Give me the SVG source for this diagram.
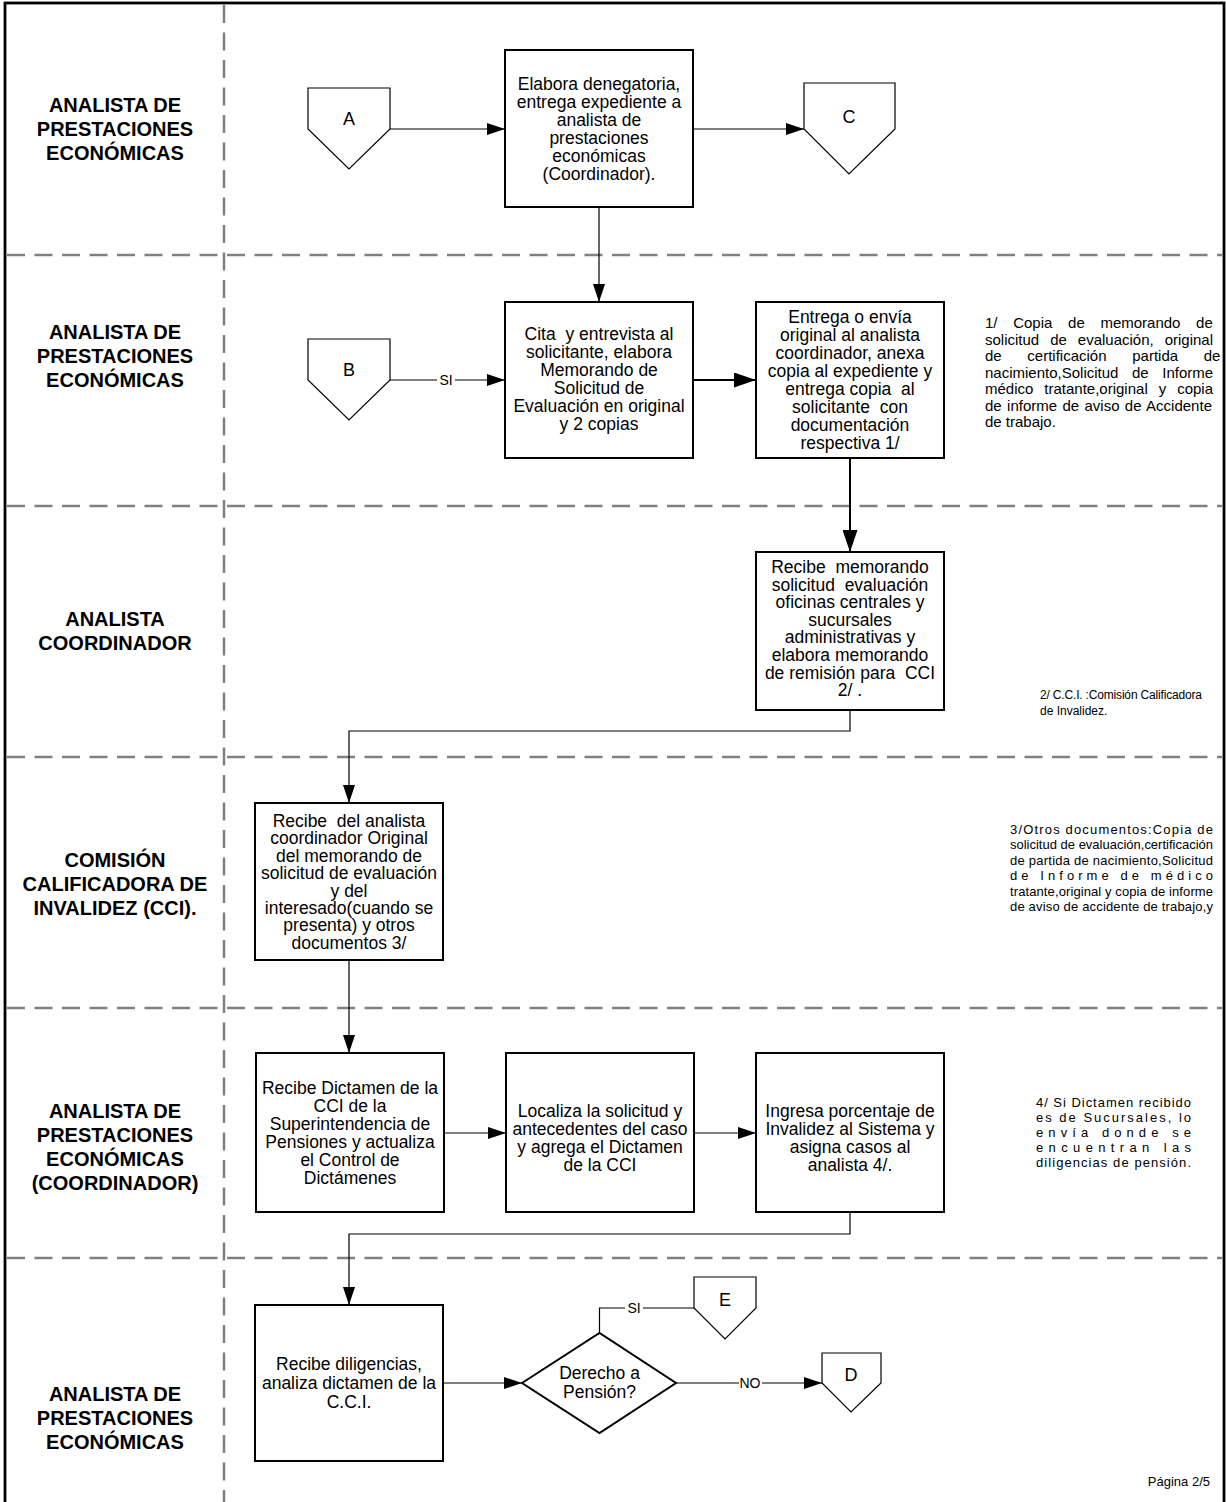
<svg xmlns="http://www.w3.org/2000/svg" width="1226" height="1502" viewBox="0 0 1226 1502">
<style>
.lane{font-family:"Liberation Sans",Arial,sans-serif;font-weight:bold;font-size:20px;fill:#000;text-anchor:middle}
.bt{font-family:"Liberation Sans",Arial,sans-serif;font-size:17.5px;fill:#000;text-anchor:middle;white-space:pre}
.lbl{font-family:"Liberation Sans",Arial,sans-serif;font-size:18px;fill:#000;text-anchor:middle}
.cl{font-family:"Liberation Sans",Arial,sans-serif;font-size:14px;fill:#000;text-anchor:middle}
.note{font-family:"Liberation Sans",Arial,sans-serif;fill:#000;white-space:pre}
.box{fill:#fff;stroke:#000;stroke-width:2}
.off{fill:#fff;stroke:#000;stroke-width:1.2}
.div{stroke:#808080;stroke-width:2.5;stroke-dasharray:18 9.5;fill:none}
.ln{fill:none;stroke:#000;stroke-width:1.2}
.lnb{fill:none;stroke:#000;stroke-width:2}
</style>
<defs>
<marker id="ah" markerUnits="userSpaceOnUse" markerWidth="18" markerHeight="12" refX="18" refY="6" orient="auto"><path d="M0,0 L18,6 L0,12 Z" fill="#000"/></marker>
<marker id="ahb" markerUnits="userSpaceOnUse" markerWidth="22" markerHeight="15" refX="22" refY="7.5" orient="auto"><path d="M0,0 L22,7.5 L0,15 Z" fill="#000"/></marker>
</defs>
<rect width="1226" height="1502" fill="#fff"/>

<g id="frame">
<rect x="5" y="3" width="1219" height="1520" fill="none" stroke="#000" stroke-width="2.8"/>
<line class="div" x1="224" y1="5" x2="224" y2="1502"/>
<line class="div" x1="7" y1="255" x2="1222" y2="255"/>
<line class="div" x1="7" y1="506" x2="1222" y2="506"/>
<line class="div" x1="7" y1="757" x2="1222" y2="757"/>
<line class="div" x1="7" y1="1008" x2="1222" y2="1008"/>
<line class="div" x1="7" y1="1258" x2="1222" y2="1258"/>
</g>

<g id="lanes">
<text class="lane" x="115" y="112">ANALISTA DE</text>
<text class="lane" x="115" y="136">PRESTACIONES</text>
<text class="lane" x="115" y="160">ECONÓMICAS</text>
<text class="lane" x="115" y="339">ANALISTA DE</text>
<text class="lane" x="115" y="363">PRESTACIONES</text>
<text class="lane" x="115" y="387">ECONÓMICAS</text>
<text class="lane" x="115" y="626">ANALISTA</text>
<text class="lane" x="115" y="650">COORDINADOR</text>
<text class="lane" x="115" y="867">COMISIÓN</text>
<text class="lane" x="115" y="891">CALIFICADORA DE</text>
<text class="lane" x="115" y="915">INVALIDEZ (CCI).</text>
<text class="lane" x="115" y="1118">ANALISTA DE</text>
<text class="lane" x="115" y="1142">PRESTACIONES</text>
<text class="lane" x="115" y="1166">ECONÓMICAS</text>
<text class="lane" x="115" y="1190">(COORDINADOR)</text>
<text class="lane" x="115" y="1401">ANALISTA DE</text>
<text class="lane" x="115" y="1425">PRESTACIONES</text>
<text class="lane" x="115" y="1449">ECONÓMICAS</text>
</g>

<g id="connectors">
<line class="ln" x1="390" y1="129" x2="505" y2="129" marker-end="url(#ah)"/>
<line class="ln" x1="693" y1="129" x2="804" y2="129" marker-end="url(#ah)"/>
<line class="ln" x1="599" y1="207" x2="599" y2="302" marker-end="url(#ah)"/>
<line class="ln" x1="390" y1="380" x2="505" y2="380" marker-end="url(#ah)"/>
<line class="lnb" x1="693" y1="380" x2="756" y2="380" marker-end="url(#ahb)"/>
<line class="lnb" x1="850" y1="458" x2="850" y2="552" marker-end="url(#ahb)"/>
<polyline class="ln" points="850,710 850,731 349,731 349,803" marker-end="url(#ah)"/>
<line class="ln" x1="349" y1="960" x2="349" y2="1053" marker-end="url(#ah)"/>
<line class="ln" x1="444" y1="1133" x2="506" y2="1133" marker-end="url(#ah)"/>
<line class="ln" x1="694" y1="1133" x2="756" y2="1133" marker-end="url(#ah)"/>
<polyline class="ln" points="850,1212 850,1234 349,1234 349,1305" marker-end="url(#ah)"/>
<line class="ln" x1="443" y1="1383" x2="522" y2="1383" marker-end="url(#ah)"/>
<polyline class="ln" points="599.5,1333 599.5,1308 694,1308"/>
<line class="ln" x1="676" y1="1383" x2="822" y2="1383" marker-end="url(#ah)"/>
<rect x="437" y="372" width="18" height="16" fill="#fff"/>
<text class="cl" x="446" y="385">SI</text>
<rect x="625" y="1300" width="18" height="16" fill="#fff"/>
<text class="cl" x="634" y="1313">SI</text>
<rect x="739" y="1375" width="23" height="16" fill="#fff"/>
<text class="cl" x="750" y="1388">NO</text>
</g>

<g id="offA"><path class="off" d="M308,88 H390 V129 L349,169 L308,129 Z"/><text class="lbl" x="349" y="125">A</text></g>
<g id="offB"><path class="off" d="M308,339 H390 V380 L349,420 L308,380 Z"/><text class="lbl" x="349" y="376">B</text></g>
<g id="offC"><path class="off" d="M804,83 H895 V129 L849,174 L804,129 Z"/><text class="lbl" x="849" y="123">C</text></g>
<g id="offE"><path class="off" d="M694,1277 H756 V1308 L725,1339 L694,1308 Z"/><text class="lbl" x="725" y="1306">E</text></g>
<g id="offD"><path class="off" d="M822,1353 H881 V1383 L851,1412 L822,1383 Z"/><text class="lbl" x="851" y="1381">D</text></g>

<g id="box1"><rect class="box" x="505" y="50" width="188" height="157"/>
<text class="bt" x="599"><tspan x="599" y="90">Elabora denegatoria,</tspan><tspan x="599" y="108">entrega expediente a</tspan><tspan x="599" y="126">analista de</tspan><tspan x="599" y="144">prestaciones</tspan><tspan x="599" y="162">económicas</tspan><tspan x="599" y="180">(Coordinador).</tspan></text></g>

<g id="box2"><rect class="box" x="505" y="302" width="188" height="156"/>
<text class="bt" x="599"><tspan x="599" y="340">Cita  y entrevista al</tspan><tspan x="599" y="358">solicitante, elabora</tspan><tspan x="599" y="376">Memorando de</tspan><tspan x="599" y="394">Solicitud de</tspan><tspan x="599" y="412">Evaluación en original</tspan><tspan x="599" y="430">y 2 copias</tspan></text></g>

<g id="box3"><rect class="box" x="756" y="302" width="188" height="156"/>
<text class="bt" x="850"><tspan x="850" y="323">Entrega o envía</tspan><tspan x="850" y="341">original al analista</tspan><tspan x="850" y="359">coordinador, anexa</tspan><tspan x="850" y="377">copia al expediente y</tspan><tspan x="850" y="395">entrega copia  al</tspan><tspan x="850" y="413">solicitante  con</tspan><tspan x="850" y="431">documentación</tspan><tspan x="850" y="449">respectiva 1/</tspan></text></g>

<g id="box4"><rect class="box" x="756" y="552" width="188" height="158"/>
<text class="bt" x="850"><tspan x="850" y="573">Recibe  memorando</tspan><tspan x="850" y="590.6">solicitud  evaluación</tspan><tspan x="850" y="608.2">oficinas centrales y</tspan><tspan x="850" y="625.8">sucursales</tspan><tspan x="850" y="643.4">administrativas y</tspan><tspan x="850" y="661">elabora memorando</tspan><tspan x="850" y="678.6">de remisión para  CCI</tspan><tspan x="850" y="696.2">2/ .</tspan></text></g>

<g id="box5"><rect class="box" x="255" y="803" width="188" height="157"/>
<text class="bt" x="349"><tspan x="349" y="827">Recibe  del analista</tspan><tspan x="349" y="844.4">coordinador Original</tspan><tspan x="349" y="861.8">del memorando de</tspan><tspan x="349" y="879.2">solicitud de evaluación</tspan><tspan x="349" y="896.6">y del</tspan><tspan x="349" y="914">interesado(cuando se</tspan><tspan x="349" y="931.4">presenta) y otros</tspan><tspan x="349" y="948.8">documentos 3/</tspan></text></g>

<g id="box6"><rect class="box" x="256" y="1053" width="188" height="159"/>
<text class="bt" x="350"><tspan x="350" y="1093.5">Recibe Dictamen de la</tspan><tspan x="350" y="1111.5">CCI de la</tspan><tspan x="350" y="1129.5">Superintendencia de</tspan><tspan x="350" y="1147.5">Pensiones y actualiza</tspan><tspan x="350" y="1165.5">el Control de</tspan><tspan x="350" y="1183.5">Dictámenes</tspan></text></g>

<g id="box7"><rect class="box" x="506" y="1053" width="188" height="159"/>
<text class="bt" x="600"><tspan x="600" y="1117">Localiza la solicitud y</tspan><tspan x="600" y="1135">antecedentes del caso</tspan><tspan x="600" y="1153">y agrega el Dictamen</tspan><tspan x="600" y="1171">de la CCI</tspan></text></g>

<g id="box8"><rect class="box" x="756" y="1053" width="188" height="159"/>
<text class="bt" x="850"><tspan x="850" y="1117">Ingresa porcentaje de</tspan><tspan x="850" y="1135">Invalidez al Sistema y</tspan><tspan x="850" y="1153">asigna casos al</tspan><tspan x="850" y="1171">analista 4/.</tspan></text></g>

<g id="box9"><rect class="box" x="255" y="1305" width="188" height="156"/>
<text class="bt" x="349"><tspan x="349" y="1370">Recibe diligencias,</tspan><tspan x="349" y="1389">analiza dictamen de la</tspan><tspan x="349" y="1408">C.C.I.</tspan></text></g>

<g id="decision"><polygon class="box" points="522,1383 599.5,1333 676,1383 599.5,1433"/>
<text class="bt" x="599.5"><tspan x="599.5" y="1379">Derecho a</tspan><tspan x="599.5" y="1398">Pensión?</tspan></text></g>

<g id="note1" class="note" font-size="15">
<text x="985" y="328" word-spacing="11.5">1/ Copia de memorando de</text>
<text x="985" y="344.5" word-spacing="6.8">solicitud de evaluación, original</text>
<text x="985" y="361" word-spacing="21.5">de certificación partida de</text>
<text x="985" y="377.5" word-spacing="9.4">nacimiento,Solicitud de Informe</text>
<text x="985" y="394" word-spacing="6.8">médico tratante,original y copia</text>
<text x="985" y="410.5" word-spacing="1.2">de informe de aviso de Accidente</text>
<text x="985" y="427">de trabajo.</text>
</g>

<g id="note2" class="note" font-size="12">
<text x="1040" y="699" textLength="162" lengthAdjust="spacing">2/ C.C.I. :Comisión Calificadora</text>
<text x="1040" y="715">de Invalidez.</text>
</g>

<g id="note3" class="note" font-size="13">
<text x="1010" y="834" textLength="203" lengthAdjust="spacing">3/Otros documentos:Copia de</text>
<text x="1010" y="849.4" textLength="203" lengthAdjust="spacing">solicitud de evaluación,certificación</text>
<text x="1010" y="864.8" textLength="203" lengthAdjust="spacing">de partida de nacimiento,Solicitud</text>
<text x="1010" y="880.2" textLength="203" lengthAdjust="spacing">de Informe de médico</text>
<text x="1010" y="895.6" textLength="203" lengthAdjust="spacing">tratante,original y copia de informe</text>
<text x="1010" y="911" textLength="203" lengthAdjust="spacing">de aviso de accidente de trabajo,y</text>
</g>

<g id="note4" class="note" font-size="13">
<text x="1036" y="1107" textLength="155" lengthAdjust="spacing">4/ Si Dictamen recibido</text>
<text x="1036" y="1122" textLength="155" lengthAdjust="spacing">es de Sucursales, lo</text>
<text x="1036" y="1137" textLength="155" lengthAdjust="spacing">envía donde se</text>
<text x="1036" y="1152" textLength="155" lengthAdjust="spacing">encuentran las</text>
<text x="1036" y="1167" textLength="155" lengthAdjust="spacing">diligencias de pensión.</text>
</g>

<g id="page"><text class="note" font-size="13" x="1210" y="1486" text-anchor="end">Página 2/5</text></g>
</svg>
